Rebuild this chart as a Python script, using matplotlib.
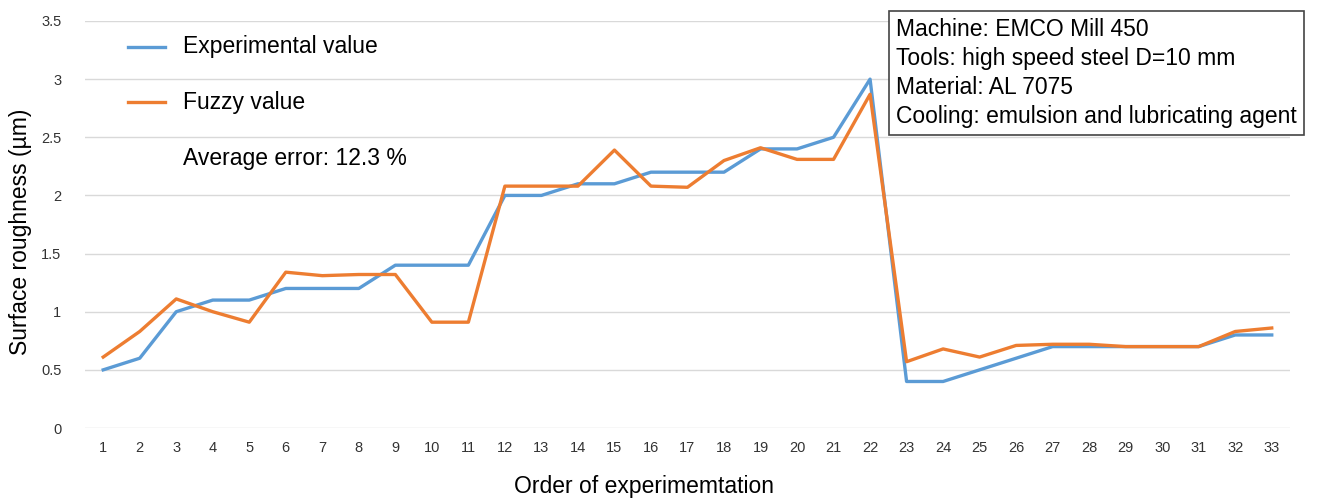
import matplotlib
matplotlib.use("Agg")
import matplotlib.pyplot as plt

# Data
runs = list(range(1, 34))
experimental = [0.5, 0.6, 1.0, 1.1, 1.1, 1.2, 1.2, 1.2, 1.4, 1.4, 1.4,
                2.0, 2.0, 2.1, 2.1, 2.2, 2.2, 2.2, 2.4, 2.4, 2.5, 3.0,
                0.4, 0.4, 0.5, 0.6, 0.7, 0.7, 0.7, 0.7, 0.7, 0.8, 0.8]
fuzzy = [0.61, 0.83, 1.11, 1.0, 0.91, 1.34, 1.31, 1.32, 1.32, 0.91, 0.91,
         2.08, 2.08, 2.08, 2.39, 2.08, 2.07, 2.30, 2.41, 2.31, 2.31, 2.87,
         0.57, 0.68, 0.61, 0.71, 0.72, 0.72, 0.70, 0.70, 0.70, 0.83, 0.86]
y_ticks = [0, 0.5, 1, 1.5, 2, 2.5, 3, 3.5]
y_tick_labels = ["0", "0.5", "1", "1.5", "2", "2.5", "3", "3.5"]

info_lines = [
    "Machine: EMCO Mill 450",
    "Tools: high speed steel D=10 mm",
    "Material: AL 7075",
    "Cooling: emulsion and lubricating agent",
]

BLUE = "#5B9BD5"
ORANGE = "#ED7D31"
W, H = 1317, 500

plt.rcParams["font.family"] = ["Liberation Sans", "DejaVu Sans"]

fig = plt.figure(figsize=(W / 100, H / 100), dpi=100)
ax = fig.add_axes([0.0645, 0.144, 0.915, 0.814])

ax.plot(runs, experimental, color=BLUE, linewidth=2.4, label="Experimental value")
ax.plot(runs, fuzzy, color=ORANGE, linewidth=2.4, label="Fuzzy value")

ax.set_xlim(0.5, 33.5)
ax.set_ylim(0, 3.5)
ax.set_xticks(runs)
ax.set_xticklabels([str(r) for r in runs])
ax.set_yticks(y_ticks)
ax.set_yticklabels(y_tick_labels)
ax.tick_params(length=0, labelsize=10.5, colors="#333333")
ax.tick_params(axis="x", pad=9)
ax.tick_params(axis="y", pad=17)
ax.grid(axis="y", color="#d9d9d9", linewidth=1)
ax.set_axisbelow(True)
for s in ax.spines.values():
    s.set_visible(False)

# axis titles sit a little off-centre in the original
ax.set_xlabel("Order of experimemtation", fontsize=16.5, va="center")
ax.xaxis.set_label_coords((644 - 85) / 1205, (428 - 486) / 407)
ax.set_ylabel("Surface roughness (µm)", fontsize=16.5, va="center")
ax.yaxis.set_label_coords((21 - 85) / 1205, (428 - 232) / 407)

# legend drawn by hand in the top-left like the original
fig.add_artist(plt.Line2D([128 / W, 165 / W], [1 - 47 / H] * 2,
                          color=BLUE, linewidth=2.4))
fig.add_artist(plt.Line2D([128 / W, 165 / W], [1 - 102 / H] * 2,
                          color=ORANGE, linewidth=2.4))
fig.text(183 / W, 1 - 47 / H, "Experimental value", fontsize=16.5, va="center")
fig.text(183 / W, 1 - 102 / H, "Fuzzy value", fontsize=16.5, va="center")
fig.text(183 / W, 1 - 158 / H, "Average error: 12.3 %", fontsize=16.5, va="center")

# info box
fig.text(896 / W, 1 - 73 / H, "\n".join(info_lines), fontsize=16.5,
         va="center", ha="left", linespacing=1.32,
         bbox=dict(boxstyle="square,pad=0.3", facecolor="white",
                   edgecolor="#444444", linewidth=1.2))

fig.savefig("out.png", dpi=100)
